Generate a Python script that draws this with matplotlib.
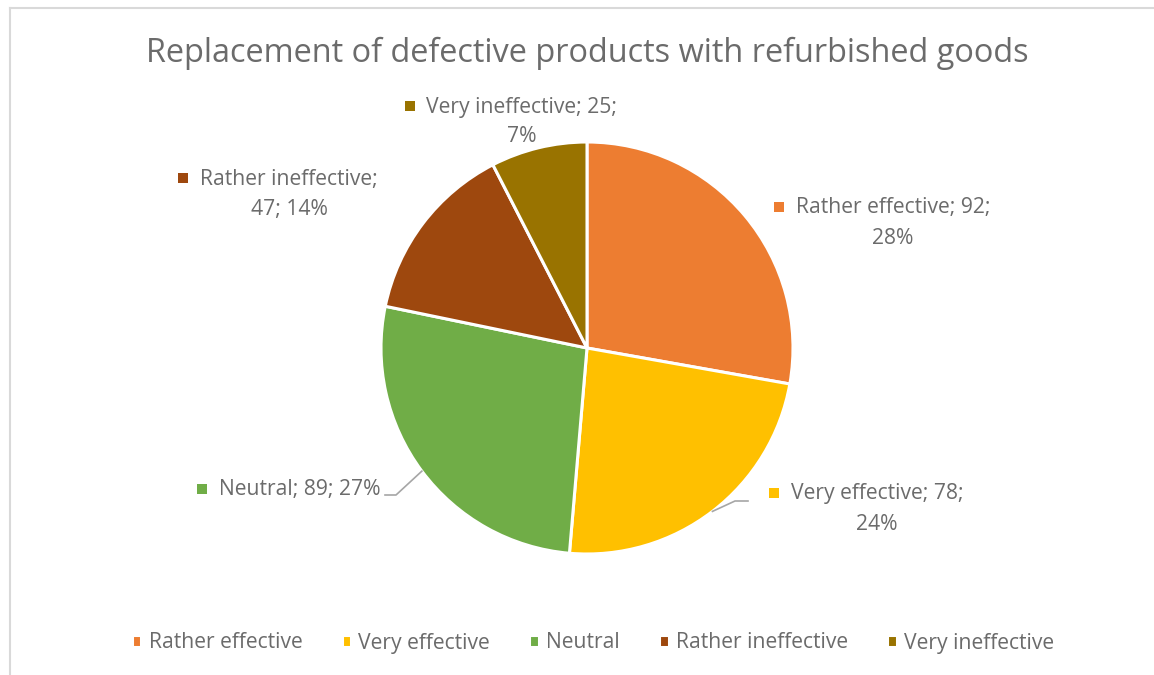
import matplotlib.pyplot as plt
from matplotlib.lines import Line2D
import numpy as np

plt.rcParams['font.family'] = ['Open Sans', 'DejaVu Sans']

title = "Replacement of defective products with refurbished goods"
categories = ["Rather effective", "Very effective", "Neutral", "Rather ineffective", "Very ineffective"]
counts = [92, 78, 89, 47, 25]
pct_labels = ["28%", "24%", "27%", "14%", "7%"]
colors = ["#ED7D31", "#FFC000", "#70AD47", "#9E480E", "#997300"]

# where each data label wraps: 2 = after the count, 1 = after the name, 0 = no wrap
wrap_at = [2, 2, 0, 1, 2]
# centre of first label line, in pixels
label_pos = [(893, 208), (877, 494), (300, 490), (289, 179), (522, 107)]

W, H = 1154, 675
TXT = "#6b6b6b"
FS = 15.2
fig = plt.figure(figsize=(W / 100, H / 100), dpi=100)
ax = fig.add_axes([0, 0, 1, 1])

wedges, _ = ax.pie(counts, colors=colors, center=(587, 348), radius=206,
                   startangle=-90, counterclock=True, frame=True,
                   wedgeprops=dict(edgecolor="white", linewidth=2.2))
ax.set_xlim(0, W)
ax.set_ylim(H, 0)
ax.set_aspect("equal")
ax.axis("off")

ax.text(587, 53, title, ha="center", va="center", fontsize=23.4, color=TXT)

# data labels
line1_texts = []
for i, cat in enumerate(categories):
    parts = [f"{cat};", f"{counts[i]};", pct_labels[i]]
    if wrap_at[i] == 2:
        l1, l2 = " ".join(parts[:2]), parts[2]
    elif wrap_at[i] == 1:
        l1, l2 = parts[0], " ".join(parts[1:])
    else:
        l1, l2 = " ".join(parts), None
    x, y = label_pos[i]
    t = ax.text(x, y, l1, ha="center", va="center", fontsize=FS, color=TXT)
    line1_texts.append(t)
    if l2:
        ax.text(x, y + 30, l2, ha="center", va="center", fontsize=FS, color=TXT)

fig.canvas.draw()
inv = ax.transData.inverted()
for i, t in enumerate(line1_texts):
    bb = t.get_window_extent()
    left = inv.transform((bb.x0, bb.y0))[0]
    ax.plot(left - 17, label_pos[i][1] - 1, marker="s", ms=7, color=colors[i],
            markeredgewidth=0)

# leader lines for the two labels sitting beside the pie
leaders = {1: ((735, 501), (748, 501)), 2: ((396, 495), (385, 495))}
for i, (elbow, end) in leaders.items():
    w = wedges[i]
    mid = np.deg2rad((w.theta1 + w.theta2) / 2)
    sx = w.center[0] + w.r * np.cos(mid)
    sy = w.center[1] + w.r * np.sin(mid)
    ax.plot([sx, elbow[0], end[0]], [sy, elbow[1], end[1]], color="#a6a6a6", lw=1.2)

fig.legend(wedges, categories, loc="center", bbox_to_anchor=(593 / W, 1 - 643 / H),
           ncol=5, frameon=False, fontsize=FS, labelcolor=TXT,
           handlelength=0.45, handleheight=0.45, handletextpad=0.35, columnspacing=1.85)

# chart area border
fig.add_artist(Line2D([10 / W, 10 / W], [0, 1 - 8 / H], color="#d9d9d9", lw=1.5))
fig.add_artist(Line2D([10 / W, 1], [1 - 8 / H, 1 - 8 / H], color="#d9d9d9", lw=1.5))

fig.savefig("out.png", dpi=100, facecolor="white")
